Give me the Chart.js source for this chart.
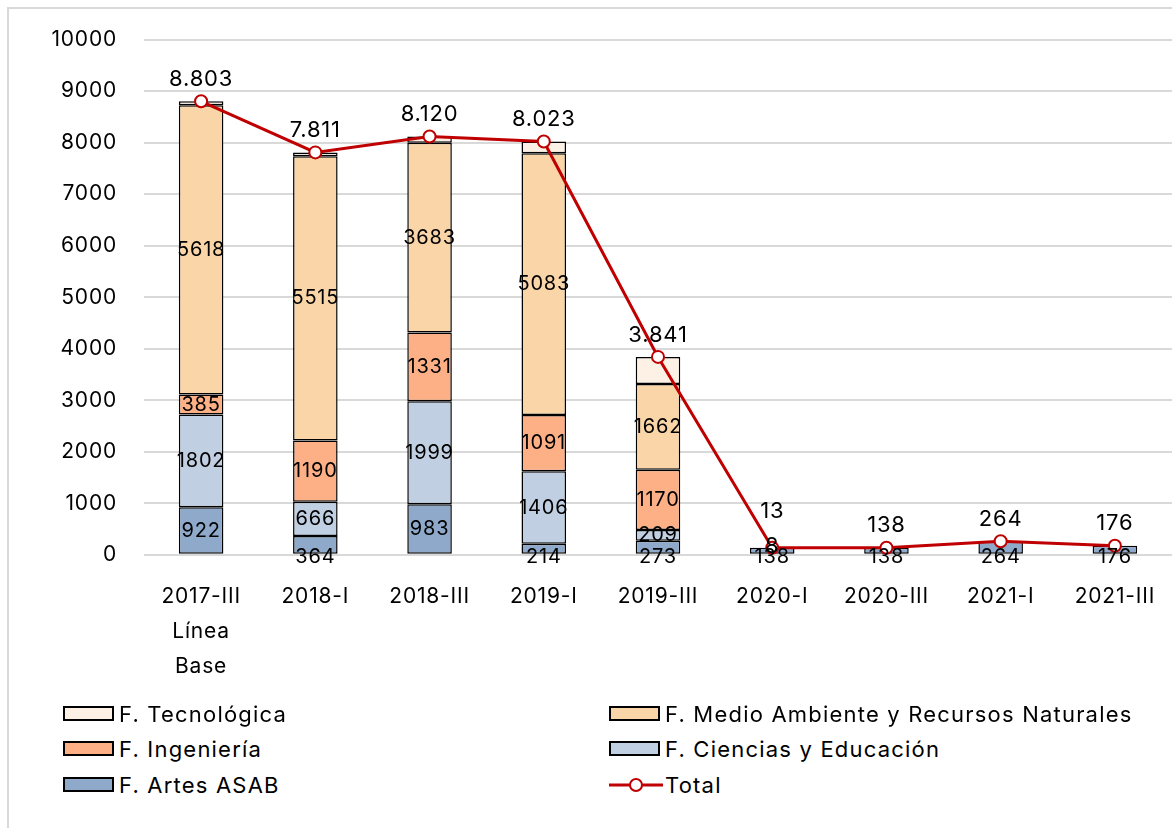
<!DOCTYPE html>
<html>
<head>
<meta charset="utf-8">
<script src="https://cdn.jsdelivr.net/npm/chart.js@4.4.0/dist/chart.umd.min.js"></script>
<style>
  body { margin: 0; width: 1172px; height: 828px; overflow: hidden; background: #fff; font-family: Inter, "Open Sans", sans-serif; }
  #frame { position: absolute; left: 7px; top: 7px; width: 1200px; height: 840px; border: 2px solid #d9d9d9; box-sizing: border-box; }
  #wrap { position: absolute; left: 0; top: 0; width: 1180px; height: 703px; }
  .leg { position: absolute; font-size: 22px; letter-spacing: 1.2px; color: #000; white-space: nowrap; line-height: 24px; }
  .leg .box { position: absolute; left: 0; top: 4px; width: 51px; height: 15px; border: 2px solid #000; box-sizing: border-box; }
  .leg .txt { position: absolute; left: 56px; top: 0; }
  .leg svg { position: absolute; left: 0; top: 2px; }
</style>
</head>
<body>
<div id="frame"></div>
<div id="wrap"><canvas id="chart"></canvas></div>
<div id="legend"></div>
<script>
const periods = [['2017-III', 'Línea', 'Base'], '2018-I', '2018-III', '2019-I', '2019-III', '2020-I', '2020-III', '2021-I', '2021-III'];
const artes = [922, 364, 983, 214, 273, 138, 138, 264, 176];
const ciencias = [1802, 666, 1999, 1406, 209, 0, 0, 0, 0];
const ingenieria = [385, 1190, 1331, 1091, 1170, 0, 0, 0, 0];
const medioAmbiente = [5618, 5515, 3683, 5083, 1662, 0, 0, 0, 0];
const tecnologica = [76, 76, 124, 229, 527, 0, 0, 0, 0];
const totals = [8803, 7811, 8120, 8023, 3841, 138, 138, 264, 176];
const yTicks = [0, 1000, 2000, 3000, 4000, 5000, 6000, 7000, 8000, 9000, 10000];

const fmtTotal = v => v.toLocaleString('de-DE');
// the 2020-I total label wraps onto two lines
const totalLabels = totals.map(fmtTotal);
totalLabels[5] = ['13', '8'];

const faculties = [
  { label: 'F. Artes ASAB', data: artes, color: '#8EA9CA', showLabel: true },
  { label: 'F. Ciencias y Educación', data: ciencias, color: '#C0CFE2', showLabel: true },
  { label: 'F. Ingeniería', data: ingenieria, color: '#FDB086', showLabel: true },
  { label: 'F. Medio Ambiente y Recursos Naturales', data: medioAmbiente, color: '#F9D5A7', showLabel: true },
  { label: 'F. Tecnológica', data: tecnologica, color: '#FDF1E5', showLabel: false }
];

const FONT = 'Inter, "Open Sans", sans-serif';

// wider letter spacing for all canvas text
const spacingPlugin = {
  id: 'spacing',
  beforeDraw(chart) { chart.ctx.letterSpacing = '0.8px'; }
};

const labelPlugin = {
  id: 'valueLabels',
  afterDatasetsDraw(chart) {
    const ctx = chart.ctx;
    ctx.save();
    ctx.fillStyle = '#000';
    ctx.textAlign = 'center';
    ctx.textBaseline = 'middle';
    chart.data.datasets.forEach((ds, di) => {
      const meta = chart.getDatasetMeta(di);
      if (ds.type === 'line') {
        ctx.font = '22px ' + FONT;
        meta.data.forEach((pt, i) => {
          const lines = [].concat(totalLabels[i]);
          const lh = 35;
          const last = lines.length === 1 ? pt.y - 22 : pt.y - 1;
          lines.forEach((t, k) => ctx.fillText(t, pt.x, last - (lines.length - 1 - k) * lh));
        });
        return;
      }
      if (!ds.showLabel) return;
      ctx.font = '20px ' + FONT;
      meta.data.forEach((bar, i) => {
        const v = ds.data[i];
        if (!v) return;
        const h = Math.abs(bar.base - bar.y);
        let y = (bar.y + bar.base) / 2;
        if (di === 1 && h < 20) y = bar.base + 3; // small bottom segments spill below the axis
        ctx.fillText(String(v), bar.x, y);
      });
    });
    ctx.restore();
  }
};

const datasets = [
  {
    type: 'line',
    label: 'Total',
    data: totals,
    stack: 'total',
    order: 0,
    borderColor: '#C00000',
    borderWidth: 3,
    pointRadius: 6,
    pointBorderWidth: 2,
    pointBackgroundColor: '#fff',
    pointBorderColor: '#C00000',
    tension: 0
  }
].concat(faculties.map(f => ({
  type: 'bar',
  label: f.label,
  data: f.data,
  showLabel: f.showLabel,
  stack: 'fac',
  order: 1,
  backgroundColor: f.color,
  borderColor: '#000',
  borderWidth: 1.5,
  borderSkipped: false,
  barPercentage: 0.39,
  categoryPercentage: 1
})));

new Chart(document.getElementById('chart'), {
  data: { labels: periods, datasets },
  options: {
    responsive: true,
    maintainAspectRatio: false,
    animation: false,
    layout: { padding: { top: 20, right: 5, bottom: 3, left: 0 } },
    plugins: { legend: { display: false }, tooltip: { enabled: false } },
    scales: {
      x: {
        stacked: true,
        grid: { display: false },
        border: { display: false },
        ticks: { color: '#000', font: { family: FONT, size: 21, lineHeight: 1.67 }, padding: 16, maxRotation: 0, autoSkip: false }
      },
      y: {
        stacked: true,
        min: 0,
        max: 10000,
        afterBuildTicks: s => { s.ticks = yTicks.map(v => ({ value: v })); },
        afterFit: s => { s.width = 144; },
        grid: { color: '#d9d9d9', lineWidth: 2, drawTicks: false },
        border: { display: false },
        ticks: { color: '#000', font: { family: FONT, size: 21 }, padding: 27, callback: v => String(v) }
      }
    }
  },
  plugins: [spacingPlugin, labelPlugin]
});

// legend, two columns
const legendItems = [
  { label: 'F. Tecnológica', color: '#FDF1E5', x: 63, y: 702 },
  { label: 'F. Medio Ambiente y Recursos Naturales', color: '#F9D5A7', x: 609, y: 702 },
  { label: 'F. Ingeniería', color: '#FDB086', x: 63, y: 737 },
  { label: 'F. Ciencias y Educación', color: '#C0CFE2', x: 609, y: 737 },
  { label: 'F. Artes ASAB', color: '#8EA9CA', x: 63, y: 773 },
  { label: 'Total', line: true, x: 609, y: 773 }
];
const legend = document.getElementById('legend');
legendItems.forEach(it => {
  const d = document.createElement('div');
  d.className = 'leg';
  d.style.left = it.x + 'px';
  d.style.top = it.y + 'px';
  const mark = it.line
    ? '<svg width="54" height="20"><line x1="0" y1="10" x2="54" y2="10" stroke="#C00000" stroke-width="3"/><circle cx="27" cy="10" r="6" fill="#fff" stroke="#C00000" stroke-width="2"/></svg>'
    : '<span class="box" style="background:' + it.color + '"></span>';
  d.innerHTML = mark + '<span class="txt">' + it.label + '</span>';
  legend.appendChild(d);
});
</script>
</body>
</html>
